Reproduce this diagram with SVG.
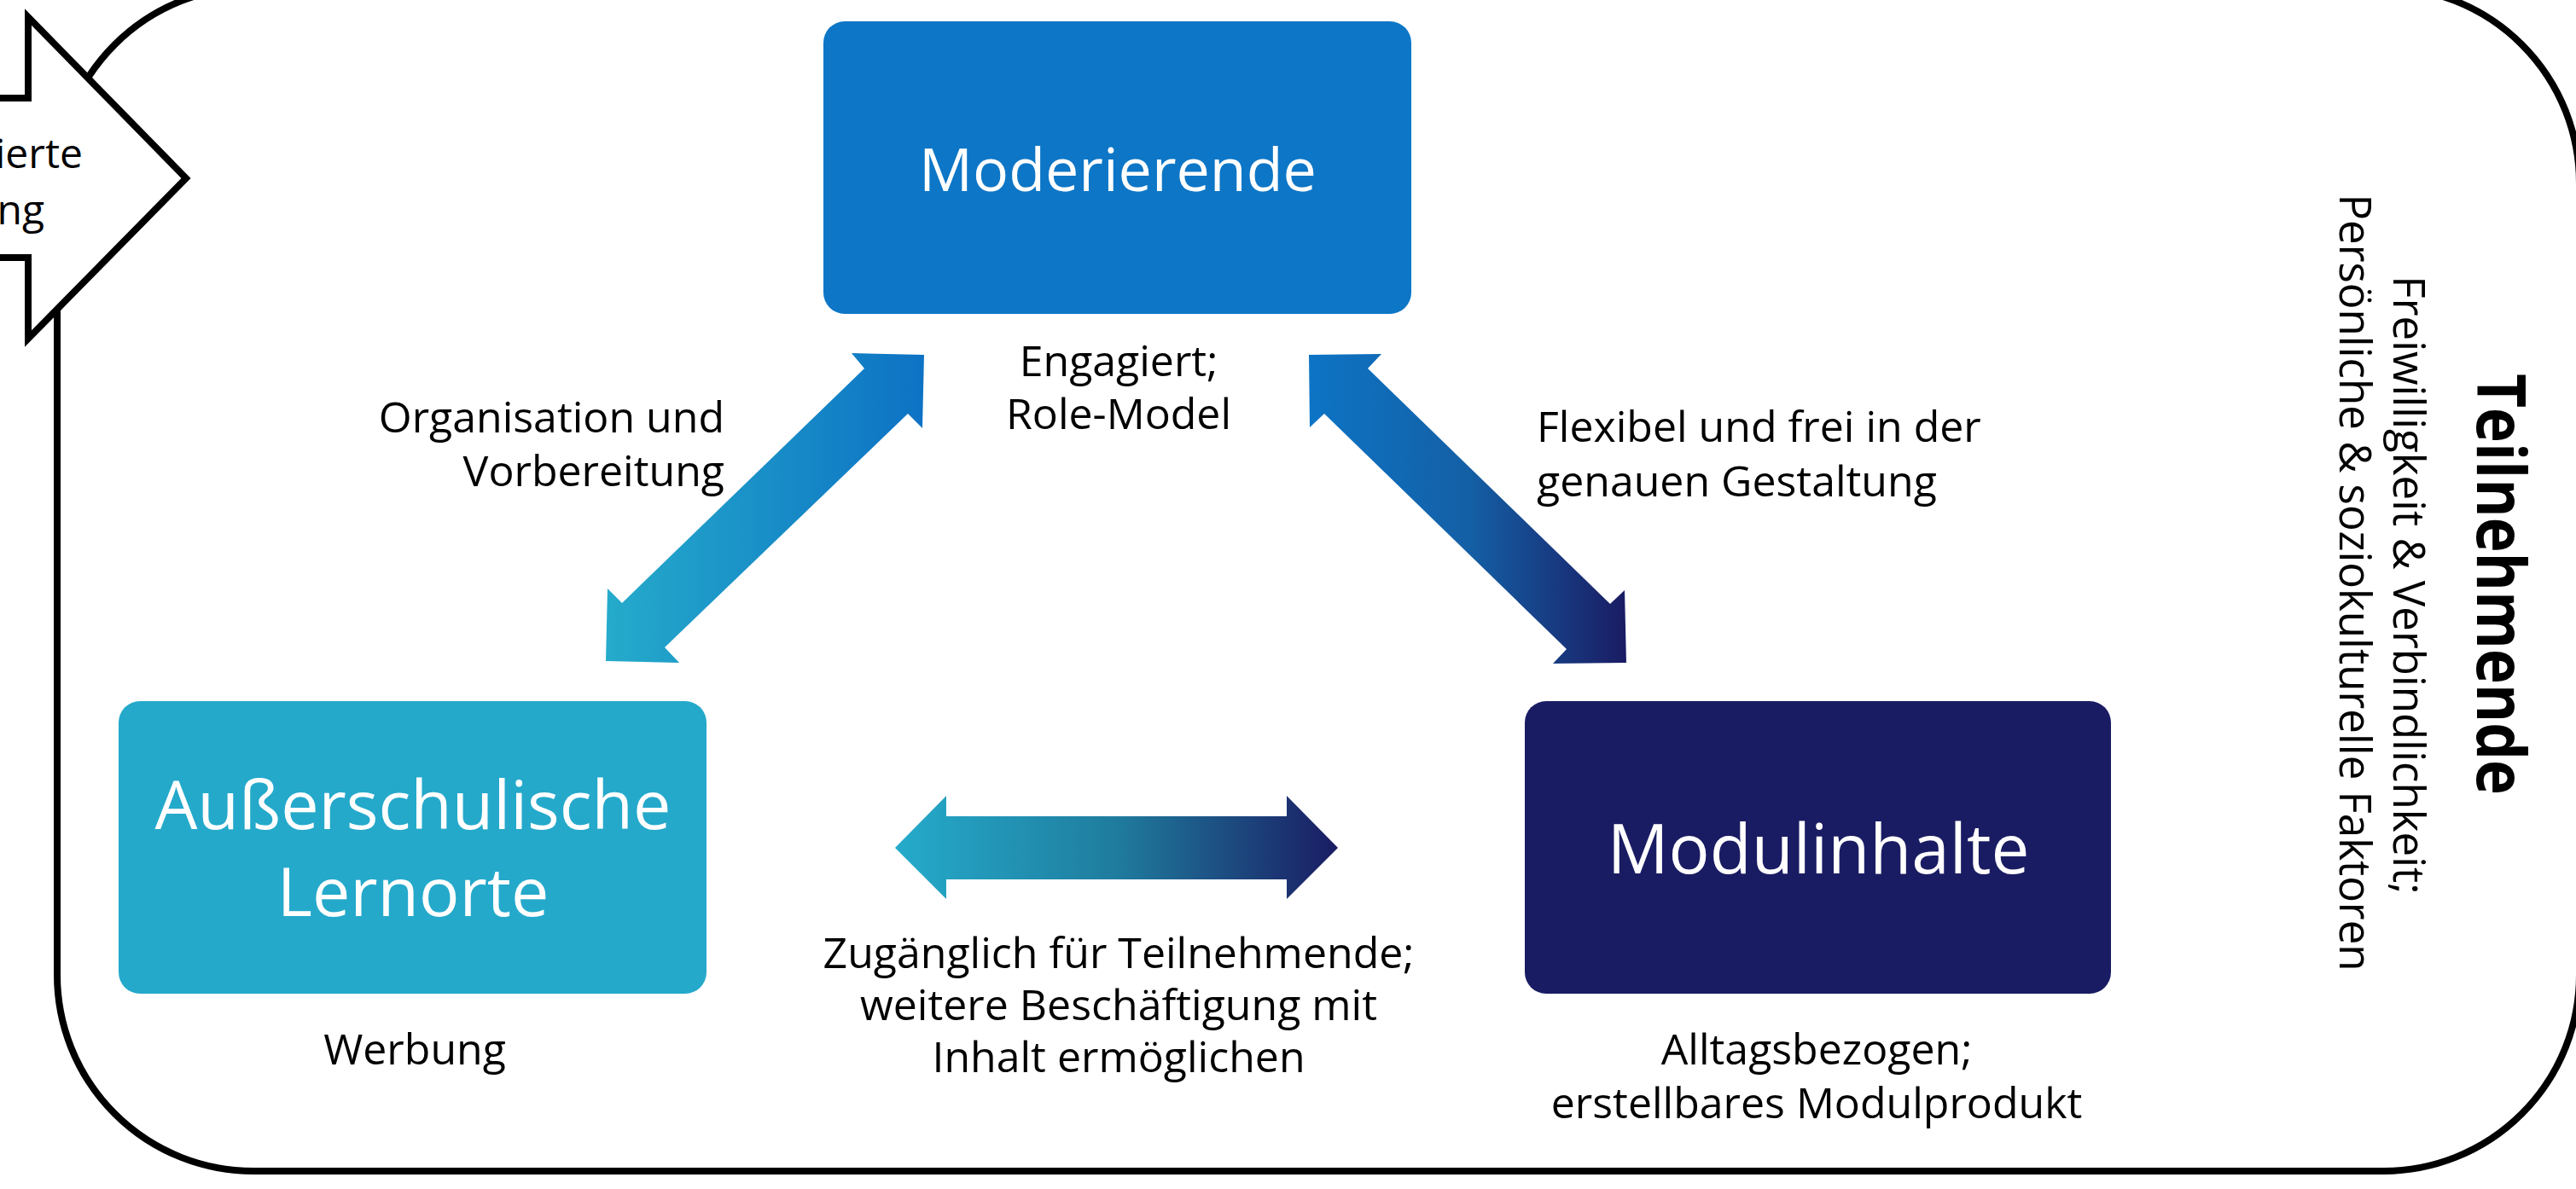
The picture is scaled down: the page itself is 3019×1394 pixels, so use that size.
<svg xmlns="http://www.w3.org/2000/svg" width="3019" height="1394" viewBox="0 0 3019 1394">
<defs>
<style>
.lbl{font-family:"Open Sans","Noto Sans",sans-serif;font-size:50px;fill:#000}
.node-t{font-family:"Open Sans","Noto Sans",sans-serif;fill:#fff;text-anchor:middle}
.c{text-anchor:middle}
.e{text-anchor:end}
</style>
<linearGradient id="gL" gradientUnits="userSpaceOnUse" x1="710" y1="0" x2="1083" y2="0">
<stop offset="0" stop-color="#25ABCB"/><stop offset="1" stop-color="#0D72C4"/>
</linearGradient>
<linearGradient id="gR" gradientUnits="userSpaceOnUse" x1="1534" y1="0" x2="1906" y2="0">
<stop offset="0" stop-color="#0D74C5"/><stop offset="0.5" stop-color="#1460A6"/><stop offset="1" stop-color="#1A1C63"/>
</linearGradient>
<linearGradient id="gH" gradientUnits="userSpaceOnUse" x1="1049" y1="0" x2="1568" y2="0">
<stop offset="0" stop-color="#25ABCB"/><stop offset="0.5" stop-color="#1F7C9E"/><stop offset="1" stop-color="#1A1C63"/>
</linearGradient>
</defs>
<rect width="3019" height="1394" fill="#fff"/>
<g id="frame">
<rect x="67" y="-15" width="2956" height="1388" rx="230" ry="230" fill="none" stroke="#000" stroke-width="8"/>
</g>
<g id="input-arrow">
<polygon points="-20,115 33,115 33,20 218,209 33,397 33,302 -20,302" fill="#fff" stroke="#000" stroke-width="8" stroke-linejoin="miter"/>
<text class="lbl e" x="97" y="197" style="font-size:48px">ierte</text>
<text class="lbl e" x="52" y="263" style="font-size:48px">ng</text>
</g>
<g id="connectors">
<polygon id="arrow-mod-ausser" points="1083,416 1081,502 1064,485 779,759 796,777 710,775 712,690 729,707 1013,432 998,414" fill="url(#gL)"/>
<polygon id="arrow-mod-modul" points="1534,416 1619,415 1603,432 1887,708 1904,692 1906,777 1820,778 1836,761 1552,485 1535,501" fill="url(#gR)"/>
<polygon id="arrow-ausser-modul" points="1049,994 1109,933 1109,957 1508,957 1508,933 1568,994 1508,1054 1508,1031 1109,1031 1109,1054" fill="url(#gH)"/>
<text class="lbl e" x="849" y="507">Organisation und</text>
<text class="lbl e" x="849" y="570">Vorbereitung</text>
<text class="lbl" x="1801" y="518">Flexibel und frei in der</text>
<text class="lbl" x="1801" y="582">genauen Gestaltung</text>
<text class="lbl c" x="1311" y="1135">Zugänglich für Teilnehmende;</text>
<text class="lbl c" x="1311" y="1196">weitere Beschäftigung mit</text>
<text class="lbl c" x="1311" y="1257">Inhalt ermöglichen</text>
</g>
<g id="node-moderierende">
<rect x="965" y="25" width="689" height="343" rx="25" fill="#0D76C6"/>
<text class="node-t" x="1310" y="224" style="font-size:70px">Moderierende</text>
<text class="lbl c" x="1311" y="441">Engagiert;</text>
<text class="lbl c" x="1311" y="503">Role-Model</text>
</g>
<g id="node-ausserschulisch">
<rect x="139" y="822" width="689" height="343" rx="25" fill="#24A9CB"/>
<text class="node-t" x="484" y="972" style="font-size:79px">Außerschulische</text>
<text class="node-t" x="484" y="1074" style="font-size:79px">Lernorte</text>
<text class="lbl c" x="486" y="1248">Werbung</text>
</g>
<g id="node-modulinhalte">
<rect x="1787" y="822" width="687" height="343" rx="25" fill="#1A1C63"/>
<text class="node-t" x="2131" y="1024" style="font-size:80px">Modulinhalte</text>
<text class="lbl c" x="2129" y="1248">Alltagsbezogen;</text>
<text class="lbl c" x="2129" y="1311">erstellbares Modulprodukt</text>
</g>
<g id="teilnehmende">
<text class="lbl c" transform="translate(2903,685) rotate(90)" style="font-size:78px;font-weight:700" textLength="494" lengthAdjust="spacingAndGlyphs">Teilnehmende</text>
<text class="lbl c" transform="translate(2805,686) rotate(90)" style="font-size:51px">Freiwilligkeit &amp; Verbindlichkeit;</text>
<text class="lbl c" transform="translate(2742,683) rotate(90)" style="font-size:51px">Persönliche &amp; soziokulturelle Faktoren</text>
</g>
</svg>
